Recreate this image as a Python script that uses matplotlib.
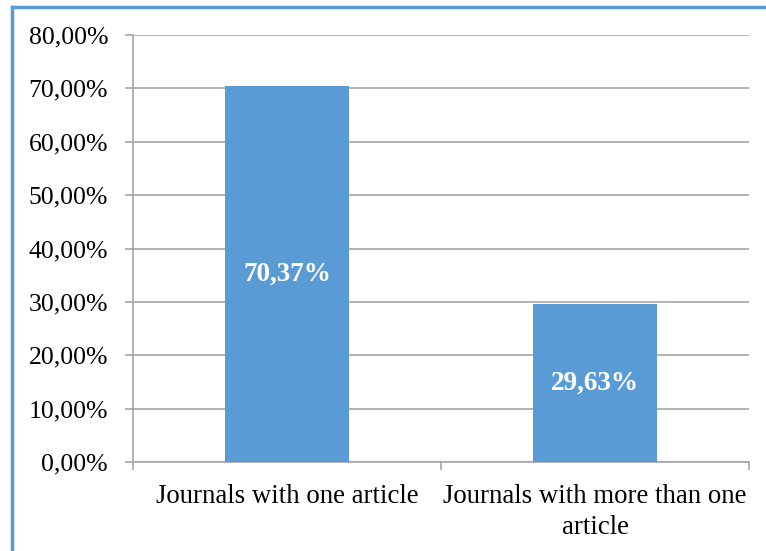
import numpy as np
import matplotlib.pyplot as plt
from matplotlib.lines import Line2D

categories = ["Journals with one article", "Journals with more than one\narticle"]
shares = [70.37, 29.63]
bar_labels = ["70,37%", "29,63%"]
y_ticks = [0, 10, 20, 30, 40, 50, 60, 70, 80]

plt.rcParams["font.family"] = ["Liberation Serif", "DejaVu Serif"]

fig = plt.figure(figsize=(7.66, 5.51), dpi=100)
ax = fig.add_axes([133 / 766, 89 / 551, (749 - 133) / 766, (462 - 35) / 551])

pos = np.arange(len(categories)) + 0.5
bars = ax.bar(pos, shares, width=0.4, color="#5B9BD5", zorder=3)
for b, lab in zip(bars, bar_labels):
    ax.text(b.get_x() + b.get_width() / 2, b.get_height() / 2, lab,
            ha="center", va="center", color="white", fontsize=19.5,
            fontweight="bold", zorder=4)

ax.set_xlim(0, 2)
ax.set_ylim(0, 80)
ax.set_yticks(y_ticks)
ax.set_yticklabels([f"{v:.2f}%".replace(".", ",") for v in y_ticks], fontsize=18.5)
ax.yaxis.grid(True, color="#A6A6A6", lw=1.2, zorder=0)

ax.set_xticks([0, 1, 2])
ax.set_xticklabels([])
ax.set_xticks(pos, minor=True)
ax.set_xticklabels(categories, minor=True, fontsize=19.3, linespacing=1.3)
ax.tick_params(axis="x", which="minor", length=0, pad=16)
ax.tick_params(axis="x", which="major", length=6, color="#A6A6A6", width=1.2)
ax.tick_params(axis="y", length=6, color="#A6A6A6", width=1.2, pad=12)

for s in ["top", "right"]:
    ax.spines[s].set_visible(False)
for s in ["left", "bottom"]:
    ax.spines[s].set_color("#A6A6A6")
    ax.spines[s].set_linewidth(1.2)

# outer frame (blue, top and left only visible)
fig.add_artist(Line2D([12 / 766, 1], [1 - 7 / 551, 1 - 7 / 551],
                      transform=fig.transFigure, color="#5B9BD5", lw=2.5))
fig.add_artist(Line2D([12 / 766, 12 / 766], [0, 1 - 7 / 551],
                      transform=fig.transFigure, color="#5B9BD5", lw=2.5))

fig.savefig("out.png", dpi=100)
